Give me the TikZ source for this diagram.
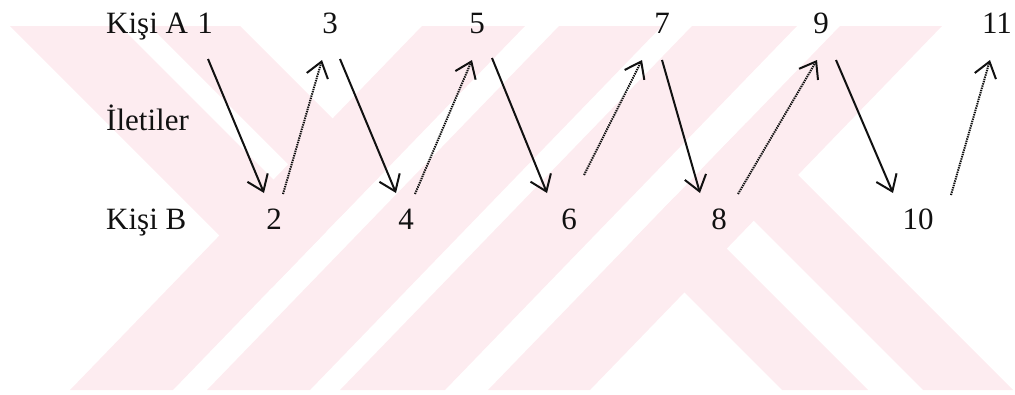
\documentclass[tikz,border=0pt]{standalone}
\usepackage{fontspec}
\setmainfont{Liberation Serif}
\usepackage{tikz}
\usetikzlibrary{arrows.meta}
\definecolor{wpink}{RGB}{253,236,240}
\definecolor{ink}{HTML}{111111}

\begin{document}
\begin{tikzpicture}[x=1pt,y=-1pt,
 lbl/.style={anchor=base west, inner sep=0pt, text=ink, font=\fontsize{31}{37}\selectfont},
 num/.style={anchor=base, inner sep=0pt, text=ink, font=\fontsize{31}{37}\selectfont},
 msg/.style={ink, line width=2pt, -{Straight Barb[length=15pt,width=22pt]}},
 ack/.style={msg, dash pattern=on 1.4pt off 0.9pt}]
 \useasboundingbox (0,0) rectangle (1015,394);
 % watermark stripes
 \foreach \l/\r in {70/173,207/310,340/445,488/590}
  \fill[wpink] (\l,390) -- (\r,390) -- (\r+352,26) -- (\l+352,26) -- cycle;
 \fill[wpink] (10,26) -- (120,26) -- (325.9,231.9) -- (271.8,287.8) -- cycle;
 \fill[wpink] (150,26) -- (240,26) -- (384.9,170.9) -- (340.6,216.6) -- cycle;
 \fill[wpink] (632.5,240.5) -- (674.8,196.8) -- (868,390) -- (782,390) -- cycle;
 \fill[wpink] (701.8,168.8) -- (746.1,123.1) -- (1013,390) -- (923,390) -- cycle;
 % labels
 \node[lbl] (kisiA) at (106,33) {Kişi A};
 \node[lbl] (ileti) at (106,130) {İletiler};
 \node[lbl] (kisiB) at (106,229) {Kişi B};
 \foreach \n/\x in {1/205,3/330,5/477,7/662,9/821,11/997}
  \node[num] (n\n) at (\x,33) {\n};
 \foreach \n/\x in {2/274,4/406,6/569,8/719,10/918}
  \node[num] (n\n) at (\x,229) {\n};
 % message ends
 \foreach \i/\sx/\sy/\ex/\ey in {1/208/59/264/193, 2/283/194/322/60, 3/340/59/396/193,
   4/415/194/472/60, 5/492/58/547/193, 6/584/175/642/60, 7/662/60/700/193,
   8/738/194/817/60, 9/836/60/893/193, 10/951/195/990/60} {
  \coordinate (s\i) at (\sx,\sy);
  \coordinate (e\i) at (\ex,\ey);
 }
 \foreach \i in {1,3,5,7,9} \draw[msg] (s\i) -- (e\i);
 \foreach \i in {2,4,6,8,10} \draw[ack] (s\i) -- (e\i);
\end{tikzpicture}
\end{document}
